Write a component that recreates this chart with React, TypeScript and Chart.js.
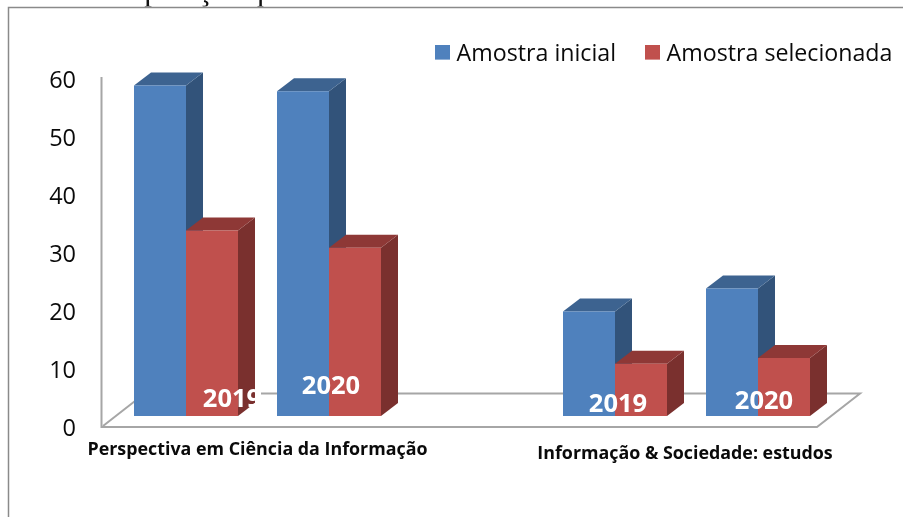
import React, { useEffect, useRef } from "react";
import { Chart, registerables } from "chart.js";

Chart.register(...registerables);

const years = ["2019", "2020", "", "2019", "2020"];
const amostraInicial = [57, 56, null, 18, 22];
const amostraSelecionada = [32, 29, null, 9, 10];
const journals = ["Perspectiva em Ciência da Informação", "Informação & Sociedade: estudos"];
const seriesNames = ["Amostra inicial", "Amostra selecionada"];
const headerLine = "ão     Comparação quantitativa entre a amostra inicial e a amostra selecionada";

const SANS = '"Open Sans", sans-serif';
const FRONT = ["#4F81BD", "#C0504D"];
const SIDE = ["#32537A", "#7A302E"];
const TOP = ["#3D6390", "#8E3836"];
const DX = 17;
const DY = -13;
// label placement relative to its category's position on the scale
const yearOffsets = [46, 2, 0, 3, 6];
const yearRows = [400, 386.5, 0, 404.5, 402];

function swatch(color: string) {
  const c = document.createElement("canvas");
  c.width = 15;
  c.height = 19;
  const g = c.getContext("2d")!;
  g.fillStyle = color;
  g.fillRect(0, 0, 15, 15);
  return c;
}

const poly = (ctx: CanvasRenderingContext2D, color: string, pts: number[][]) => {
  ctx.fillStyle = color;
  ctx.beginPath();
  pts.forEach((p, i) => (i ? ctx.lineTo(p[0], p[1]) : ctx.moveTo(p[0], p[1])));
  ctx.closePath();
  ctx.fill();
};

const seg = (ctx: CanvasRenderingContext2D, color: string, w: number, pts: number[][]) => {
  ctx.strokeStyle = color;
  ctx.lineWidth = w;
  ctx.beginPath();
  pts.forEach((p, i) => (i ? ctx.lineTo(p[0], p[1]) : ctx.moveTo(p[0], p[1])));
  ctx.stroke();
};

const scene = {
  id: "scene",
  afterLayout(chart: any) {
    const l = chart.legend;
    l.left = 406;
    l.right = 1200;
    l.top = 8.5;
  },
  beforeDatasetsDraw(chart: any) {
    const ctx: CanvasRenderingContext2D = chart.ctx;
    ctx.save();
    // page frame and clipped caption line above the figure
    ctx.save();
    ctx.beginPath();
    ctx.rect(0, 0, 903, 6.5);
    ctx.clip();
    ctx.fillStyle = "#111";
    ctx.font = '31px "Liberation Serif", serif';
    ctx.textBaseline = "alphabetic";
    ctx.textAlign = "left";
    ctx.fillText(headerLine, 16, 0.4);
    ctx.restore();
    seg(ctx, "#8a8a8a", 1.5, [[8.5, 517], [8.5, 7.5], [903, 7.5]]);
    // floor and wall
    seg(ctx, "#a6a6a6", 2, [[101.5, 77], [101.5, 427], [817, 427], [860, 393.5], [261, 393.5]]);
    seg(ctx, "#a6a6a6", 2, [[103, 426], [144, 394]]);
    // side and top faces
    chart.data.datasets.forEach((_: any, di: number) => {
      chart.getDatasetMeta(di).data.forEach((bar: any, i: number) => {
        if (chart.data.datasets[di].data[i] == null) return;
        const p = bar.getProps(["x", "y", "base", "width"], true);
        const l = p.x - p.width / 2;
        const r = p.x + p.width / 2;
        poly(ctx, SIDE[di], [[r, p.y], [r + DX, p.y + DY], [r + DX, p.base + DY], [r, p.base]]);
        poly(ctx, TOP[di], [[l, p.y], [l + DX, p.y + DY], [r + DX, p.y + DY], [r, p.y]]);
      });
    });
    ctx.restore();
  },
  afterDatasetsDraw(chart: any) {
    const ctx: CanvasRenderingContext2D = chart.ctx;
    const x = chart.scales.x;
    ctx.save();
    ctx.textBaseline = "middle";
    ctx.textAlign = "center";
    ctx.fillStyle = "#fff";
    ctx.font = `bold 25.5px ${SANS}`;
    years.forEach((y, i) => {
      if (!y) return;
      ctx.save();
      if (i === 0) {
        ctx.beginPath();
        ctx.rect(190, 370, 68, 50);
        ctx.clip();
      }
      ctx.fillText(y, x.getPixelForValue(i) + yearOffsets[i], yearRows[i]);
      ctx.restore();
    });
    ctx.fillStyle = "#0a0a0a";
    ctx.font = `bold 17.85px ${SANS}`;
    ctx.fillText(journals[0], (x.getPixelForValue(0) + x.getPixelForValue(1)) / 2, 450);
    ctx.fillText(journals[1], (x.getPixelForValue(3) + x.getPixelForValue(4)) / 2 - 1.5, 454);
    ctx.restore();
  },
};

export default function App() {
  const ref = useRef<HTMLCanvasElement>(null);
  useEffect(() => {
    const chart = new Chart(ref.current!, {
      type: "bar",
      data: {
        labels: years,
        datasets: [
          { label: seriesNames[0], data: amostraInicial, backgroundColor: FRONT[0] },
          { label: seriesNames[1], data: amostraSelecionada, backgroundColor: FRONT[1] },
        ],
      },
      options: {
        animation: false,
        responsive: false,
        layout: { padding: { left: 14.5, right: 73.5, top: 8, bottom: 101 } },
        datasets: { bar: { barPercentage: 1, categoryPercentage: 104 / 143 } },
        scales: {
          x: { display: false },
          y: {
            min: 0,
            max: 60,
            afterFit: (s: any) => {
              s.width = 100;
            },
            border: { display: false },
            grid: { display: false, drawTicks: false },
            ticks: {
              stepSize: 10,
              padding: 38.5,
              labelOffset: 13,
              color: "#0a0a0a",
              font: { family: SANS, size: 23.5 },
            },
          },
        },
        plugins: {
          tooltip: { enabled: false },
          title: { display: false },
          legend: {
            position: "top",
            align: "start",
            maxHeight: 60,
            labels: {
              usePointStyle: true,
              pointStyleWidth: 5,
              padding: 34,
              color: "#0a0a0a",
              font: { family: SANS, size: 23.2 },
              generateLabels: (c: any) =>
                c.data.datasets.map((d: any, i: number) => ({
                  text: d.label,
                  fontColor: "#0a0a0a",
                  pointStyle: swatch(FRONT[i]),
                  datasetIndex: i,
                  lineWidth: 0,
                  fillStyle: FRONT[i],
                  strokeStyle: FRONT[i],
                })),
            },
          },
        },
      } as any,
      plugins: [scene],
    });
    return () => chart.destroy();
  }, []);
  return (
    <div style={{ position: "fixed", left: 0, top: 0, width: 903, height: 517, background: "#fff" }}>
      <canvas ref={ref} width={903} height={517} style={{ display: "block" }} />
    </div>
  );
}
